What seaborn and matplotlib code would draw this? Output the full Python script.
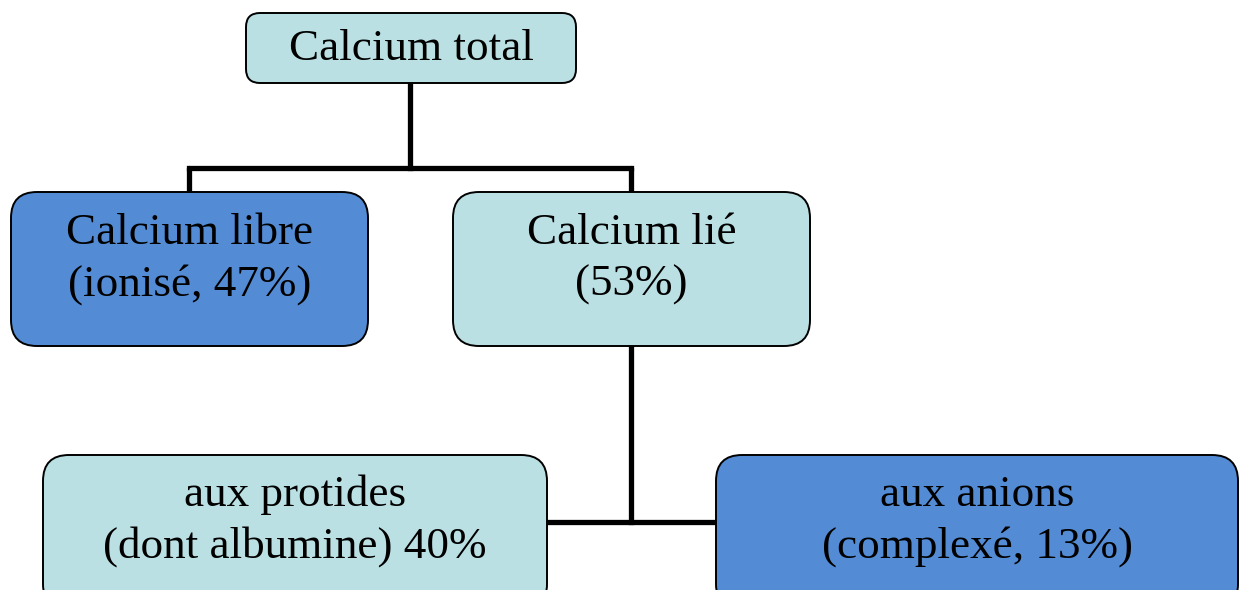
import seaborn as sns
import matplotlib.pyplot as plt
from matplotlib.patches import FancyBboxPatch

# node labels
labels = ["Calcium total",
          "Calcium libre\n(ionisé, 47%)",
          "Calcium lié\n(53%)",
          "aux protides\n(dont albumine) 40%",
          "aux anions\n(complexé, 13%)"]
kinds = ["light", "dark", "light", "light", "dark"]

# layout in pixel units (x0, y0, x1, y1), y going down
boxes = [(246, 13, 576, 83),
         (11, 192, 368, 346),
         (453, 192, 810, 346),
         (43, 455, 547, 610),
         (716, 455, 1238, 610)]
text_y = [49, 259, 259, 521, 521]
radius = [14, 26, 26, 26, 26]

palette = {"light": "#BAE0E3", "dark": "#538CD4"}

sns.set_style("white")
plt.rcParams['font.family'] = ['Liberation Serif', 'DejaVu Serif']

fig = plt.figure(figsize=(12.48, 5.9), dpi=100)
ax = fig.add_axes([0, 0, 1, 1])
ax.set_xlim(0, 1248)
ax.set_ylim(590, 0)
ax.axis('off')

# connectors
lw = 3.8
ax.plot([410, 410], [83, 168], color='black', lw=lw, solid_capstyle='projecting', zorder=1)
ax.plot([189, 631], [168, 168], color='black', lw=lw, solid_capstyle='projecting', zorder=1)
ax.plot([189, 189], [168, 192], color='black', lw=lw, zorder=1)
ax.plot([631, 631], [168, 192], color='black', lw=lw, zorder=1)
ax.plot([631, 631], [346, 522], color='black', lw=lw, solid_capstyle='projecting', zorder=1)
ax.plot([547, 716], [522, 522], color='black', lw=lw, zorder=1)

for lab, kind, (x0, y0, x1, y1), ty, r in zip(labels, kinds, boxes, text_y, radius):
    patch = FancyBboxPatch((x0, y0), x1 - x0, y1 - y0,
                           boxstyle=f"round,pad=0,rounding_size={r}",
                           facecolor=palette[kind], edgecolor='black', lw=1.4, zorder=2)
    ax.add_patch(patch)
    ax.text((x0 + x1) / 2, ty, lab, ha='center', va='center', fontsize=32.5,
            linespacing=1.36, color='black', zorder=3)

fig.savefig("out.png", dpi=100)
